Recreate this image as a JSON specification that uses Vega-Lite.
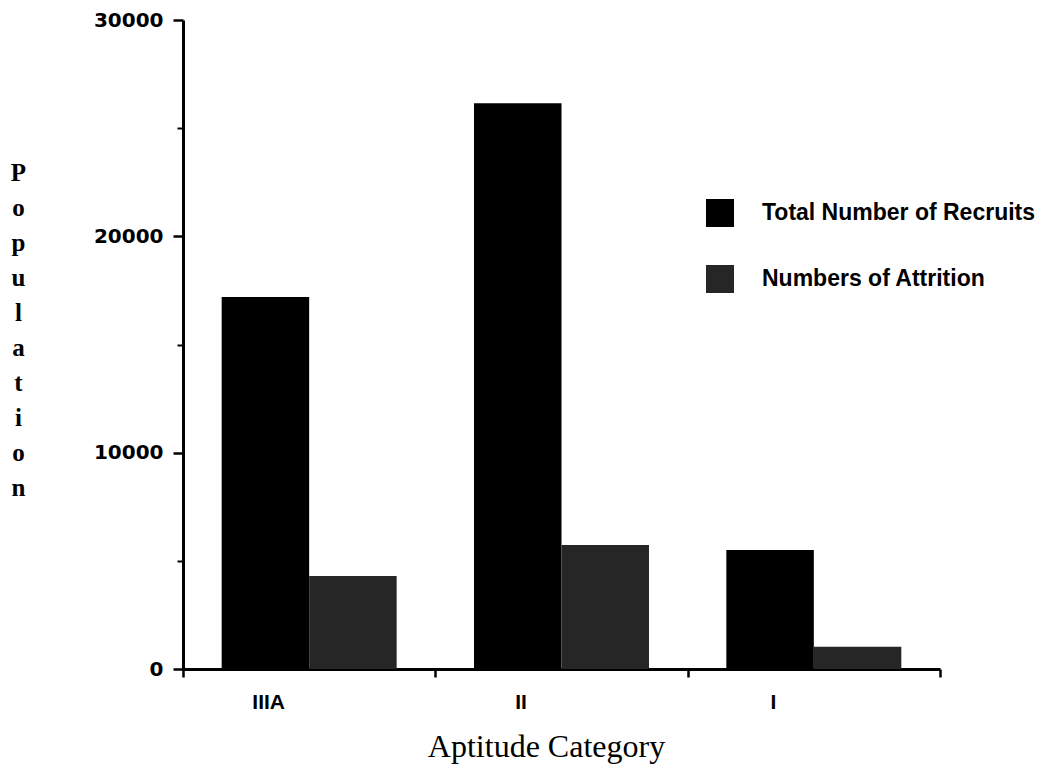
{
  "$schema": "https://vega.github.io/schema/vega-lite/v6.json",
  "width": 757,
  "height": 649,
  "autosize": "none",
  "padding": {"left": 183, "top": 20, "right": 102, "bottom": 104},
  "background": "white",
  "config": {"view": {"stroke": null}},
  "data": {"values": [
    {"category": "IIIA", "series": "Total Number of Recruits", "population": 17200},
    {"category": "IIIA", "series": "Numbers of Attrition", "population": 4300},
    {"category": "II", "series": "Total Number of Recruits", "population": 26150},
    {"category": "II", "series": "Numbers of Attrition", "population": 5730},
    {"category": "I", "series": "Total Number of Recruits", "population": 5500},
    {"category": "I", "series": "Numbers of Attrition", "population": 1030}
  ]},
  "layer": [
    {
      "mark": {"type": "bar"},
      "encoding": {
        "x": {
          "field": "category", "type": "nominal", "sort": ["IIIA", "II", "I"],
          "scale": {"paddingInner": 0, "paddingOuter": 0},
          "axis": {
            "title": "Aptitude Category",
            "labelAngle": 0,
            "tickBand": "extent",
            "tickSize": 8,
            "tickWidth": 2.5,
            "tickColor": "black",
            "domainColor": "black",
            "domainWidth": 3,
            "labelOffset": -41,
            "labelFont": "Liberation Sans",
            "labelFontWeight": "bold",
            "labelFontSize": 21,
            "labelColor": "black",
            "labelPadding": 14,
            "titleFont": "Liberation Serif",
            "titleFontWeight": "normal",
            "titleFontSize": 32,
            "titleColor": "black",
            "titleX": 363,
            "titleY": 87,
            "titleAlign": "center",
            "titleBaseline": "alphabetic"
          }
        },
        "xOffset": {
          "field": "series", "type": "nominal",
          "sort": ["Total Number of Recruits", "Numbers of Attrition"],
          "scale": {"paddingInner": 0, "paddingOuter": 0.442}
        },
        "y": {
          "field": "population", "type": "quantitative",
          "scale": {"domain": [0, 30000], "nice": false},
          "axis": {
            "values": [0, 10000, 20000, 30000],
            "format": "d",
            "grid": false,
            "labelFont": "DejaVu Sans",
            "labelFontWeight": "bold",
            "labelFontSize": 20,
            "labelColor": "black",
            "labelPadding": 10,
            "tickColor": "black",
            "tickSize": 10,
            "tickWidth": 2.5,
            "domainColor": "black",
            "domainWidth": 3,
            "title": ["P", "o", "p", "u", "l", "a", "t", "i", "o", "n"],
            "titleAngle": 0,
            "titleFont": "Liberation Serif",
            "titleFontWeight": "bold",
            "titleFontSize": 25,
            "titleLineHeight": 35,
            "titleColor": "black",
            "titleX": -165,
            "titleY": 140,
            "titleAlign": "center",
            "titleBaseline": "top"
          }
        },
        "color": {
          "field": "series", "type": "nominal",
          "scale": {
            "domain": ["Total Number of Recruits", "Numbers of Attrition"],
            "range": ["#000000", "#262626"]
          },
          "legend": {
            "title": null,
            "orient": "none",
            "legendX": 523,
            "legendY": 179,
            "symbolType": "square",
            "symbolSize": 784,
            "symbolStrokeWidth": 0,
            "labelFont": "Liberation Sans",
            "labelFontWeight": "bold",
            "labelFontSize": 23,
            "labelColor": "black",
            "labelLimit": 400,
            "labelOffset": 28,
            "rowPadding": 38
          }
        }
      }
    },
    {
      "mark": {"type": "bar", "opacity": 0},
      "encoding": {
        "x": {"field": "category", "type": "nominal", "sort": ["IIIA", "II", "I"], "axis": null},
        "xOffset": {"field": "series", "type": "nominal", "sort": ["Total Number of Recruits", "Numbers of Attrition"]},
        "y": {
          "field": "population", "type": "quantitative",
          "axis": {
            "orient": "left",
            "values": [5000, 15000, 25000],
            "labels": false,
            "domain": false,
            "grid": false,
            "tickSize": 6,
            "tickWidth": 2,
            "tickColor": "black",
            "title": null
          }
        }
      }
    }
  ],
  "resolve": {"axis": {"y": "independent", "x": "independent"}}
}
